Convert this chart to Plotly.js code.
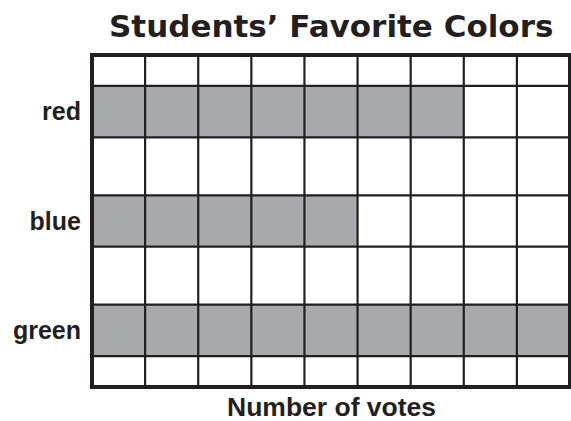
<!DOCTYPE html>
<html><head><meta charset="utf-8">
<script src="https://cdn.plot.ly/plotly-3.0.1.min.js"></script>
<style>html,body{margin:0;padding:0;background:#fff}#c{width:571px;height:421px}</style>
</head><body><div id="c"></div>
<script>
const categories = ["red", "blue", "green"];
const votes = [7, 5, 9];
const maxVotes = 9;
const xTitle = "Number of votes";

const barWidth = 0.47;
const pad = 0.518;
const ink = "#231f20";
const idx = categories.map((_, i) => i);

const shapes = [];
for (let k = 1; k < maxVotes; k++) {
  shapes.push({type: "line", xref: "x", yref: "paper", x0: k, x1: k, y0: 0, y1: 1,
    line: {color: ink, width: 2.2}, layer: "above"});
}
idx.forEach(i => {
  [i - barWidth / 2, i + barWidth / 2].forEach(y => {
    shapes.push({type: "line", xref: "paper", yref: "y", x0: 0, x1: 1, y0: y, y1: y,
      line: {color: ink, width: 2.2}, layer: "above"});
  });
});
shapes.push({type: "rect", xref: "paper", yref: "paper", x0: 0, x1: 1, y0: 0, y1: 1,
  line: {color: ink, width: 4}, layer: "above"});

const trace = {
  type: "bar", orientation: "h",
  x: votes, y: idx, width: barWidth,
  marker: {color: "#a7a9ac", line: {width: 0}},
  hoverinfo: "skip"
};

const layout = {
  width: 571, height: 421,
  margin: {l: 92, r: 1, t: 55, b: 34},
  paper_bgcolor: "#fff", plot_bgcolor: "#fff",
  showlegend: false,
  title: {text: "Students’ Favorite Colors", x: 0.58, xanchor: "center", y: 0.938, yanchor: "middle",
    font: {family: "DejaVu Sans, Arial, sans-serif", size: 31, weight: 700, color: ink}},
  xaxis: {range: [0, maxVotes], dtick: 1, showgrid: false, zeroline: false,
    showticklabels: false, ticks: "", showline: false, fixedrange: true},
  yaxis: {range: [categories.length - 1 + pad, -pad], tickvals: idx, ticktext: categories,
    showgrid: false, zeroline: false, ticks: "", showline: false, ticklabelstandoff: 10,
    tickfont: {family: "Liberation Sans, Arial, sans-serif", size: 25, weight: 700, color: ink}},
  annotations: [{text: xTitle, xref: "paper", yref: "paper", x: 0.5, y: 0,
    xanchor: "center", yanchor: "middle", yshift: -19.5, showarrow: false, borderpad: 0,
    font: {family: "Liberation Sans, Arial, sans-serif", size: 26.5, weight: 700, color: ink}}],
  shapes: shapes
};

Plotly.newPlot("c", [trace], layout, {displayModeBar: false, staticPlot: true});
</script></body></html>
